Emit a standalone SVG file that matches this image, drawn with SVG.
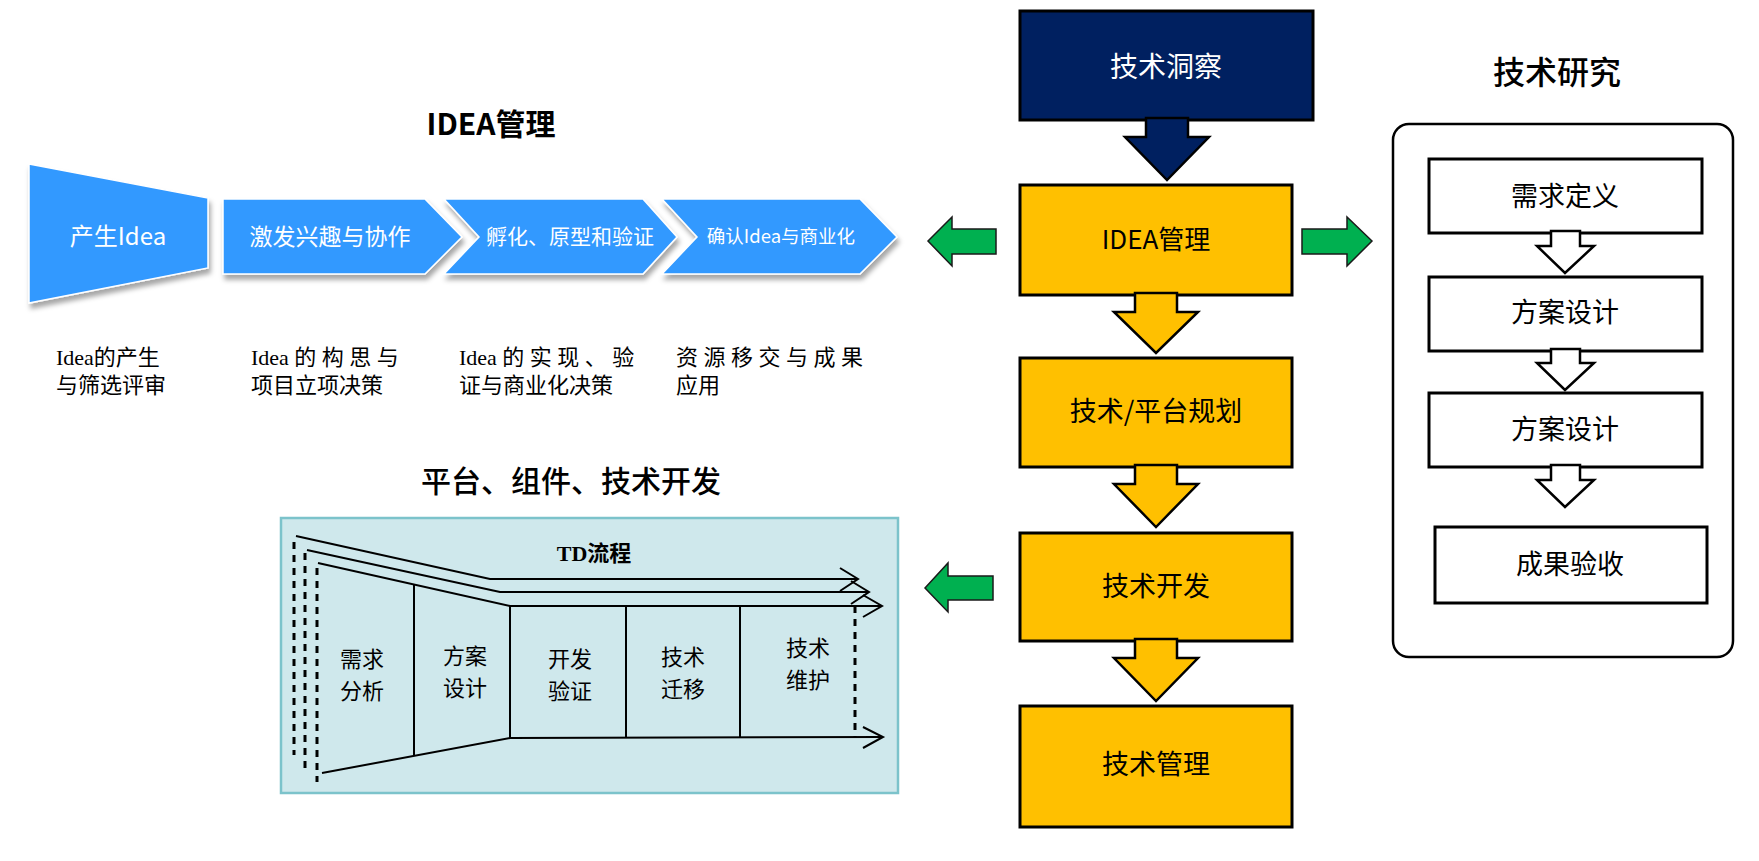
<svg xmlns="http://www.w3.org/2000/svg" width="1759" height="861" viewBox="0 0 1759 861">
<style>
.sans{font-family:"Noto Sans CJK SC","Liberation Sans",sans-serif;}
.ser{font-family:"Liberation Serif","Noto Sans CJK SC",serif;}
.blue{fill:#3399FF;stroke:#FFFFFF;stroke-width:1.5;filter:url(#sh);}
.wt{fill:#FFFFFF;text-anchor:middle;}
.bt{fill:#000000;text-anchor:middle;}
.ybox{fill:#FFC000;stroke:#000;stroke-width:3;}
.yarr{fill:#FFC000;stroke:#000;stroke-width:2.5;stroke-linejoin:miter;}
.wbox{fill:#FFFFFF;stroke:#000;stroke-width:3;}
.warr{fill:#FFFFFF;stroke:#000;stroke-width:2.5;}
.garr{fill:#00B050;stroke:#1a1a1a;stroke-width:1.5;}
.ln{fill:none;stroke:#000;stroke-width:2;}
.dash{fill:none;stroke:#000;stroke-width:3;stroke-dasharray:7 6;}
.desc{font-size:22px;fill:#000;}
.td{font-size:22px;fill:#000;text-anchor:middle;}
</style>
<defs>
<filter id="sh" x="-10%" y="-10%" width="130%" height="140%">
<feDropShadow dx="2" dy="5" stdDeviation="2.5" flood-color="#000" flood-opacity="0.35"/>
</filter>
</defs>
<rect width="1759" height="861" fill="#FFFFFF"/>

<!-- IDEA management chevrons -->
<g id="idea-title"><text class="sans" x="491" y="135" font-size="30" font-weight="bold" text-anchor="middle">IDEA管理</text></g>
<g id="stage1">
<polygon class="blue" points="29,164 208,198 208,268 29,303"/>
<text class="sans wt" x="118" y="245" font-size="24">产生Idea</text>
</g>
<g id="stage2">
<polygon class="blue" points="223,199 425,199 462,237 425,274 223,274"/>
<text class="sans wt" x="330" y="245" font-size="23">激发兴趣与协作</text>
</g>
<g id="stage3">
<polygon class="blue" points="444,199 643,199 677,237 643,274 444,274 479,237"/>
<text class="sans wt" x="570" y="244" font-size="21">孵化、原型和验证</text>
</g>
<g id="stage4">
<polygon class="blue" points="662,199 860,199 897,237 860,274 662,274 697,237"/>
<text class="sans wt" x="781" y="243" font-size="18.5">确认Idea与商业化</text>
</g>
<g id="desc1"><text class="ser desc" x="56" y="365">Idea的产生</text><text class="ser desc" x="56" y="393">与筛选评审</text></g>
<g id="desc2"><text class="ser desc" x="251" y="365" xml:space="preserve">Idea 的 构 思 与</text><text class="ser desc" x="251" y="393">项目立项决策</text></g>
<g id="desc3"><text class="ser desc" x="459" y="365" xml:space="preserve">Idea 的 实 现 、 验</text><text class="ser desc" x="459" y="393">证与商业化决策</text></g>
<g id="desc4"><text class="ser desc" x="676" y="365" xml:space="preserve">资 源 移 交 与 成 果</text><text class="ser desc" x="676" y="393">应用</text></g>

<!-- Platform / TD process -->
<g id="td-title"><text class="sans" x="571" y="492" font-size="30" font-weight="500" text-anchor="middle">平台、组件、技术开发</text></g>
<g id="td-process">
<rect x="281" y="518" width="617" height="275" fill="#CFE8EC" stroke="#7CC3CB" stroke-width="2.5"/>
<text class="ser" x="594" y="561" font-size="22" font-weight="bold" text-anchor="middle">TD流程</text>
<line class="dash" x1="294" y1="542" x2="294" y2="755"/>
<line class="dash" x1="305" y1="553" x2="305" y2="768"/>
<line class="dash" x1="317" y1="568" x2="317" y2="782"/>
<line class="dash" x1="855" y1="606" x2="855" y2="737"/>
<polyline class="ln" points="296,536 490,579 858,579"/>
<polyline class="ln" points="307,550 500,592 869,592"/>
<polyline class="ln" points="318,563 510,606 882,606"/>
<polyline class="ln" points="322,773 510,738 883,737"/>
<polyline class="ln" points="840,568 858,579 840,591"/>
<polyline class="ln" points="851,581 869,592 851,604"/>
<polyline class="ln" points="863,595 882,606 863,617"/>
<polyline class="ln" points="863,727 883,737 863,748"/>
<line class="ln" x1="414" y1="585" x2="414" y2="756"/>
<line class="ln" x1="510" y1="606" x2="510" y2="738"/>
<line class="ln" x1="626" y1="606" x2="626" y2="737"/>
<line class="ln" x1="740" y1="606" x2="740" y2="737"/>
<text class="sans td" x="362" y="667"><tspan x="362" y="667">需求</tspan><tspan x="362" y="699">分析</tspan></text>
<text class="sans td" x="465" y="664"><tspan x="465" y="664">方案</tspan><tspan x="465" y="696">设计</tspan></text>
<text class="sans td" x="570" y="667"><tspan x="570" y="667">开发</tspan><tspan x="570" y="699">验证</tspan></text>
<text class="sans td" x="683" y="665"><tspan x="683" y="665">技术</tspan><tspan x="683" y="697">迁移</tspan></text>
<text class="sans td" x="808" y="656"><tspan x="808" y="656">技术</tspan><tspan x="808" y="688">维护</tspan></text>
</g>

<!-- Central column -->
<g id="insight">
<rect x="1020" y="11" width="293" height="109" fill="#002060" stroke="#000" stroke-width="3"/>
<text class="sans wt" x="1166" y="77" font-size="28">技术洞察</text>
</g>
<g id="idea-box">
<rect class="ybox" x="1020" y="185" width="272" height="110"/>
<text class="sans bt" x="1156" y="249" font-size="26">IDEA管理</text>
</g>
<g id="plan-box">
<rect class="ybox" x="1020" y="358" width="272" height="109"/>
<text class="sans bt" x="1156" y="421" font-size="27">技术/平台规划</text>
</g>
<g id="dev-box">
<rect class="ybox" x="1020" y="533" width="272" height="108"/>
<text class="sans bt" x="1156" y="596" font-size="27">技术开发</text>
</g>
<g id="mgmt-box">
<rect class="ybox" x="1020" y="706" width="272" height="121"/>
<text class="sans bt" x="1156" y="774" font-size="27">技术管理</text>
</g>

<!-- Research -->
<g id="research-title"><text class="sans bt" x="1557" y="84" font-size="32" font-weight="500">技术研究</text></g>
<g id="research">
<rect x="1393" y="124" width="340" height="533" rx="16" fill="#FFFFFF" stroke="#000" stroke-width="2.5"/>
</g>
<g id="r1"><rect class="wbox" x="1429" y="159" width="273" height="74"/><text class="sans bt" x="1565" y="206" font-size="27">需求定义</text></g>
<g id="r2"><rect class="wbox" x="1429" y="277" width="273" height="74"/><text class="sans bt" x="1565" y="322" font-size="27">方案设计</text></g>
<g id="r3"><rect class="wbox" x="1429" y="393" width="273" height="74"/><text class="sans bt" x="1565" y="439" font-size="27">方案设计</text></g>
<g id="r4"><rect class="wbox" x="1435" y="527" width="272" height="76"/><text class="sans bt" x="1570" y="574" font-size="27">成果验收</text></g>

<!-- Connectors -->
<g id="connectors">
<polygon points="1146,118 1188,118 1188,137 1209,137 1167,180 1125,137 1146,137" fill="#002060" stroke="#000" stroke-width="2.5"/>
<polygon class="yarr" points="1135,293 1177,293 1177,312 1198,312 1156,353 1114,312 1135,312"/>
<polygon class="yarr" points="1135,465 1177,465 1177,484 1198,484 1156,527 1114,484 1135,484"/>
<polygon class="yarr" points="1135,639 1177,639 1177,658 1198,658 1156,701 1114,658 1135,658"/>
<polygon class="warr" points="1551,231 1580,231 1580,246 1594,246 1565,273 1537,246 1551,246"/>
<polygon class="warr" points="1551,349 1580,349 1580,363 1594,363 1565,390 1537,363 1551,363"/>
<polygon class="warr" points="1551,465 1580,465 1580,480 1594,480 1565,507 1537,480 1551,480"/>
<polygon class="garr" points="928,241 952,217 952,229 996,229 996,254 952,254 952,266"/>
<polygon class="garr" points="1372,241 1347,217 1347,229 1302,229 1302,254 1347,254 1347,266"/>
<polygon class="garr" points="925,588 948,563 948,576 993,576 993,600 948,600 948,612"/>
</g>
</svg>
